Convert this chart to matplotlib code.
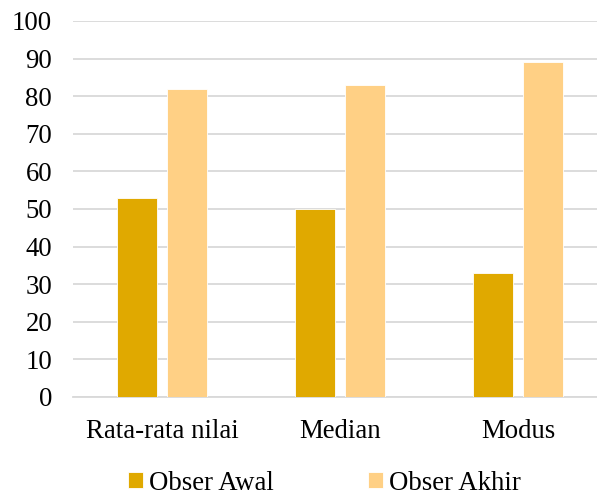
import numpy as np
import matplotlib
matplotlib.use('Agg')
from matplotlib import pyplot as plt

plt.rcParams['font.family'] = ['Liberation Serif', 'DejaVu Serif']

categories = ['Rata-rata nilai', 'Median', 'Modus']
obser_awal = [53, 50, 33]
obser_akhir = [82, 83, 89]
series_names = ['Obser Awal', 'Obser Akhir']
colors = ['#E0A900', '#FFD085']

W, H = 597, 495
fig = plt.figure(figsize=(W / 100, H / 100), dpi=100)
# plot area runs a bit past the right edge, as in the source image
ax = fig.add_axes([73 / W, 1 - 397 / H, 534 / W, 376 / H])

x = np.arange(len(categories))
w = 0.225
off = 0.143
ax.bar(x - off, obser_awal, w, color=colors[0], edgecolor='white', linewidth=0.6,
       label=series_names[0], zorder=3)
ax.bar(x + off, obser_akhir, w, color=colors[1], edgecolor='white', linewidth=0.6,
       label=series_names[1], zorder=3)

ax.set_xlim(-0.5, 2.5)
ax.set_ylim(0, 100)
ax.set_yticks(range(0, 101, 10))
ax.set_xticks(x)
ax.set_xticklabels(categories)
ax.yaxis.grid(True, color='#D9D9D9', linewidth=1.3, zorder=0)
ax.set_axisbelow(True)
for s in ['top', 'right', 'left']:
    ax.spines[s].set_visible(False)
ax.spines['bottom'].set_color('#D9D9D9')
ax.spines['bottom'].set_linewidth(1.3)
fs = 19.3
ax.tick_params(axis='both', length=0, labelsize=fs, colors='black')
ax.tick_params(axis='x', pad=16)
ax.tick_params(axis='y', pad=15)

handles, labels = ax.get_legend_handles_labels()
fig.legend(handles, labels, loc='center', bbox_to_anchor=(324.5 / W, 1 - 483 / H),
           ncol=2, frameon=False, fontsize=fs, handlelength=0.56, handleheight=0.56,
           handletextpad=0.22, columnspacing=3.5, borderpad=0)

fig.savefig('out.png', dpi=100)
